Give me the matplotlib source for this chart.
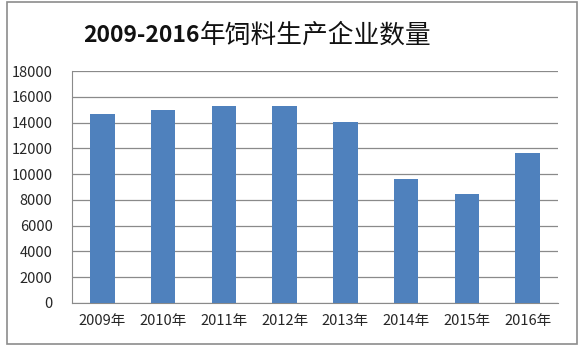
import matplotlib.pyplot as plt
from matplotlib.patches import Rectangle

plt.rcParams['font.family'] = ['Noto Sans CJK SC', 'DejaVu Sans']

years = ['2009年', '2010年', '2011年', '2012年', '2013年', '2014年', '2015年', '2016年']
counts = [14650, 15000, 15300, 15250, 14050, 9600, 8480, 11600]
yticks = [0, 2000, 4000, 6000, 8000, 10000, 12000, 14000, 16000, 18000]

W, H = 585, 350
fig = plt.figure(figsize=(W / 100, H / 100), dpi=100)

# chart frame (excel-style box)
fig.patches.append(Rectangle((7 / W, 1 - 344 / H), 570 / W, 342 / H,
                             transform=fig.transFigure, facecolor='white',
                             edgecolor='#8c8c8c', linewidth=1.2, zorder=-5))

ax = fig.add_axes([72 / W, 1 - 303 / H, 486 / W, 232 / H])
ax.set_facecolor('white')
x = list(range(len(years)))
ax.bar(x, counts, width=0.4, color='#4f81bd', zorder=3)

ax.set_xlim(-0.5, len(years) - 0.5)
ax.set_ylim(0, 18000)
ax.set_yticks(yticks)
ax.set_yticklabels([str(v) for v in yticks], fontsize=10.5, color='#262626')
ax.set_xticks(x)
ax.set_xticklabels(years, fontsize=10.5, color='#262626')
ax.tick_params(axis='both', length=0)
ax.tick_params(axis='y', pad=14)
ax.tick_params(axis='x', pad=8)
ax.grid(axis='y', color='#8a8a8a', linewidth=0.9, zorder=1)

for s in ['top', 'right']:
    ax.spines[s].set_visible(False)
ax.spines['left'].set_color('#8a8a8a')
ax.spines['bottom'].set_color('#8a8a8a')

# title: bold years, regular chinese text
fig.text(200 / W, 1 - 36 / H, '2009-2016', ha='right', va='center',
         fontsize=16.5, fontweight='bold', color='#111111')
fig.text(200 / W, 1 - 36 / H, '年饲料生产企业数量', ha='left', va='center',
         fontsize=18.5, color='#111111')

fig.savefig('out.png', dpi=100, facecolor='white')
